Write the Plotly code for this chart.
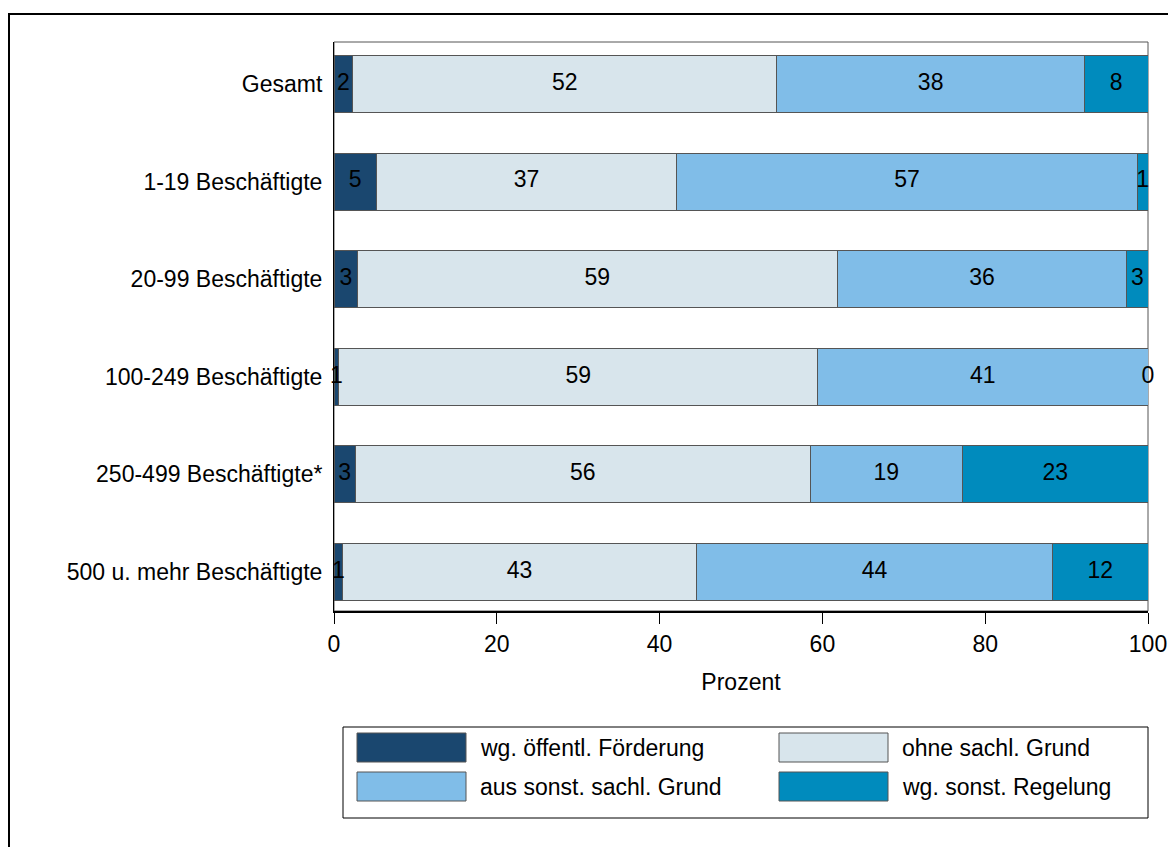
import plotly.graph_objects as go

# Betriebsgrößenklassen (top to bottom)
categories = [
    "Gesamt",
    "1-19 Beschäftigte",
    "20-99 Beschäftigte",
    "100-249 Beschäftigte",
    "250-499 Beschäftigte*",
    "500 u. mehr Beschäftigte",
]

# Anteile in Prozent je Befristungsgrund
foerderung = [2.3, 5.2, 2.9, 0.6, 2.6, 1.1]
ohne_grund = [52.1, 36.9, 58.9, 58.8, 55.9, 43.4]
sonst_grund = [37.8, 56.6, 35.6, 40.6, 18.7, 43.8]
sonst_regelung = [7.8, 1.3, 2.6, 0.0, 22.8, 11.7]

series_names = [
    "wg. öffentl. Förderung",
    "ohne sachl. Grund",
    "aus sonst. sachl. Grund",
    "wg. sonst. Regelung",
]
series_values = [foerderung, ohne_grund, sonst_grund, sonst_regelung]
series_colors = ["#1a476f", "#d8e5ec", "#80bde8", "#008bbd"]

x_ticks = [0, 20, 40, 60, 80, 100]

FONT = "Liberation Sans, Arial, sans-serif"
FS = 23

W, H = 1168, 847
L, R, T, B = 334, 1148, 42, 611  # plot area in pixels


def px(x):
    return (x - L) / (R - L)


def py(y):
    return (B - y) / (B - T)


fig = go.Figure()

# stacked bars
for name, vals, col in zip(series_names, series_values, series_colors):
    fig.add_trace(go.Bar(
        y=categories, x=vals, name=name, orientation="h",
        marker=dict(color=col, line=dict(color="#555555", width=1)),
        width=0.585, showlegend=False, hoverinfo="x+name",
    ))

# value labels centred in each segment
lab_x, lab_y, lab_t = [], [], []
for i, cat in enumerate(categories):
    start = 0.0
    for vals in series_values:
        v = vals[i]
        lab_x.append(start + v / 2)
        lab_y.append(cat)
        lab_t.append(f"{v:.0f}")
        start += v
fig.add_trace(go.Scatter(
    x=lab_x, y=lab_y, text=lab_t, mode="text",
    textposition="middle center",
    textfont=dict(family=FONT, size=FS, color="black"),
    cliponaxis=False, showlegend=False, hoverinfo="skip",
))

shapes = []
# outer frame
shapes.append(dict(type="rect", xref="paper", yref="paper",
                   x0=px(9), x1=px(1180), y0=py(860), y1=py(14),
                   line=dict(color="black", width=2), layer="below"))
# plot region frame
shapes.append(dict(type="rect", xref="paper", yref="paper",
                   x0=0, x1=1, y0=0, y1=1,
                   line=dict(color="#555555", width=1), layer="below"))

# legend box
shapes.append(dict(type="rect", xref="paper", yref="paper",
                   x0=px(343), x1=px(1148), y0=py(818), y1=py(727),
                   line=dict(color="black", width=1), layer="above"))

annotations = []
legend_pos = [(357, 733), (779, 733), (357, 772), (779, 772)]
for (lx, ly), name, col in zip(legend_pos, series_names, series_colors):
    shapes.append(dict(type="rect", xref="paper", yref="paper",
                       x0=px(lx), x1=px(lx + 109), y0=py(ly + 29), y1=py(ly),
                       fillcolor=col, line=dict(color="#555555", width=1)))
    annotations.append(dict(xref="paper", yref="paper",
                            x=px(lx + 121), y=py(ly + 15), text=name,
                            showarrow=False, xanchor="left", yanchor="middle",
                            font=dict(family=FONT, size=FS, color="black")))

fig.update_layout(
    barmode="stack",
    width=W, height=H,
    margin=dict(l=L, r=W - R, t=T, b=H - B, autoexpand=False),
    paper_bgcolor="white", plot_bgcolor="white",
    font=dict(family=FONT, size=FS, color="black"),
    shapes=shapes, annotations=annotations,
    showlegend=False,
)
fig.update_xaxes(
    range=[0, 100], tickvals=x_ticks, ticks="outside", ticklen=11,
    tickwidth=1, tickcolor="black", showgrid=False, zeroline=False,
    showline=True, linecolor="black", linewidth=2, automargin=False,
    tickfont=dict(family=FONT, size=FS),
    title=dict(text="Prozent", font=dict(family=FONT, size=FS), standoff=18),
)
fig.update_yaxes(
    type="category", categoryorder="array", categoryarray=categories,
    range=[5.4, -0.43], ticks="", showgrid=False, zeroline=False,
    showline=True, linecolor="black", linewidth=1, automargin=False,
    ticklabelstandoff=6, tickfont=dict(family=FONT, size=FS),
)

fig.write_html("out.html")
